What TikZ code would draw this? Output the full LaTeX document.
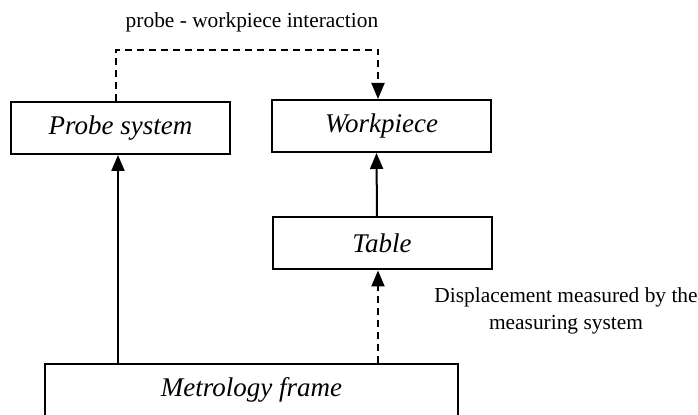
\documentclass[tikz,border=0pt]{standalone}
\usepackage{fontspec}
\setmainfont{Liberation Serif}
\usetikzlibrary{arrows.meta}
\usetikzlibrary{positioning}
\usetikzlibrary{calc}

\begin{document}
\begin{tikzpicture}[x=0.5pt,y=0.5pt,->,>={Triangle[length=8pt,width=6.5pt]},line width=1pt,
					font=\fontsize{13.5}{16}\selectfont\itshape]
					\tikzstyle{block}=[rectangle,draw,minimum width=109.5pt,minimum height=26pt,inner sep=0pt]
					\tikzstyle{note}=[font=\fontsize{10.7}{13.5}\selectfont\upshape,align=center]
					\tikzstyle{dashline}=[dash pattern=on 3.5pt off 2.5pt]
					\clip (0,0) rectangle (698,415);
					
					\node[block]       (probe) at (120.5,287) {Probe system};
					\node[block]       (work)  at (381.5,289) {Workpiece};
					\node[block]       (table) at (382,171.5) {Table};
					\node[block,minimum width=206.5pt] (frame) at (251.5,25) {Metrology frame};
					
					\node[note] (inter) at (252,393) {probe - workpiece interaction};
					\node[note] (disp)  at (566,104) {Displacement measured by the\\measuring system};
					
					\coordinate (top) at (250,365);
					
					\path ($(probe.south |- frame.north)+(-2.5,0)$) edge ($(probe.south)+(-2.5,0)$)
					($(table.north)+(-5,0)$) edge ($(work.south)+(-5,0)$)
					($(table.south |- frame.north)+(-4,0)$) edge [dashline] ($(table.south)+(-4,0)$)
					;
					\draw[dashline] ($(probe.north)+(-5,0)$) |- (top) -| ($(work.north)+(-3.5,0)$);
					\end{tikzpicture}
\end{document}
